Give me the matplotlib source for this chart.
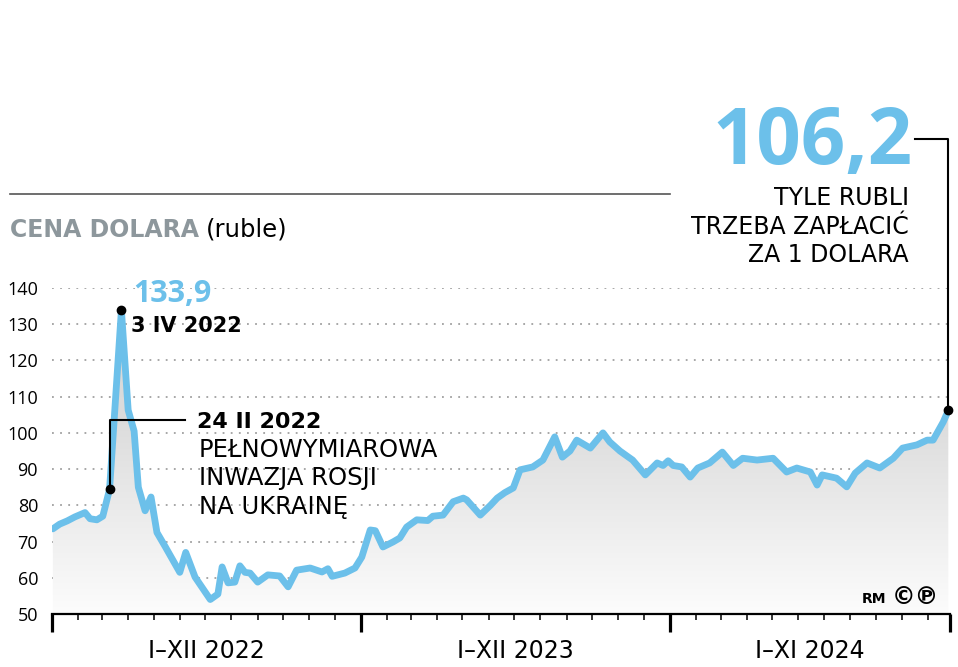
import numpy as np
import pandas as pd
import matplotlib
matplotlib.use("Agg")
import matplotlib.pyplot as plt
from matplotlib.colors import LinearSegmentedColormap
from matplotlib.lines import Line2D

# kurs dolara w rublach, dni liczone od 1 I 2022
dni = [1, 9, 18, 27, 39, 45, 53, 60, 68, 82, 90, 97, 102, 110, 117, 124, 134, 151,
       158, 169, 187, 196, 201, 208, 216, 222, 228, 234, 243, 255, 269, 279, 289,
       305, 319, 326, 331, 346, 358, 366, 376, 382, 391, 403, 411, 419, 431, 444,
       450, 462, 474, 486, 490, 506, 518, 526, 535, 545, 553, 568, 580, 594, 603,
       612, 620, 636, 651, 659, 671, 686, 701, 715, 722, 728, 734, 744, 754, 763,
       777, 792, 805, 816, 833, 852, 868, 880, 896, 904, 910, 927, 939, 949, 963,
       978, 994, 1005, 1022, 1034, 1041, 1053, 1059]
kurs = [73.5, 74.8, 75.7, 76.8, 78.0, 76.3, 76.0, 77.0, 84.4, 133.9, 106.3, 100.5,
        85.0, 78.5, 82.3, 72.5, 68.5, 61.5, 67.0, 60.2, 54.0, 55.5, 63.0, 58.6,
        58.8, 63.3, 61.5, 61.3, 58.8, 60.8, 60.5, 57.5, 62.1, 62.7, 61.6, 62.5,
        60.4, 61.3, 62.7, 65.7, 73.2, 73.0, 68.5, 69.9, 71.0, 74.0, 76.0, 75.8,
        77.0, 77.3, 81.0, 82.0, 81.5, 77.3, 80.0, 82.0, 83.5, 84.8, 89.8, 90.6,
        92.5, 98.9, 93.3, 95.0, 98.0, 95.8, 100.0, 97.5, 95.0, 92.5, 88.4, 91.7,
        91.0, 92.3, 91.0, 90.6, 87.8, 90.3, 91.7, 94.7, 91.0, 93.0, 92.5, 93.0,
        89.2, 90.3, 89.2, 85.6, 88.4, 87.5, 85.1, 88.9, 91.7, 90.3, 93.0, 95.8,
        96.7, 98.0, 98.0, 103.0, 106.2]

lata = ["I–XII 2022", "I–XII 2023", "I–XI 2024"]
y_ticks = [50, 60, 70, 80, 90, 100, 110, 120, 130, 140]

NIEBIESKI = "#6cc0ea"
SZARY = "#8d979c"
LICZBY = ["Open Sans", "DejaVu Sans"]   # cyfry
SLOWA = ["DejaVu Sans"]                 # napisy (szersze litery)

plt.rcParams["font.family"] = LICZBY

W, H = 958, 667
fig = plt.figure(figsize=(W / 100, H / 100), dpi=100)


def fx(px):
    return px / W


def fy(py):
    return 1 - py / H


ax = fig.add_axes([fx(52), fy(614), fx(950) - fx(52), fy(288) - fy(614)])

start = pd.Timestamp("2022-01-01")
koniec = dni[-1] + 2

# wypełnienie z gradientem pod linią
cmap = LinearSegmentedColormap.from_list("szary", [(0, "#fcfcfc"), (0.6, "#dcdcdc"), (1, "#d6d6d6")])
grad = np.linspace(0, 1, 256).reshape(-1, 1)
im = ax.imshow(grad, extent=[0, koniec, 50, 140], origin="lower", cmap=cmap,
               aspect="auto", zorder=1)
poly = ax.fill_between(dni, kurs, 50, color="none", lw=0)
im.set_clip_path(poly.get_paths()[0], transform=ax.transData)

ax.plot(dni, kurs, color=NIEBIESKI, lw=4.9, solid_joinstyle="round",
        solid_capstyle="round", zorder=3)

ax.set_xlim(0, koniec)
ax.set_ylim(50, 140)

# siatka
for v in y_ticks[1:]:
    ax.axhline(v, color="#a0a0a0", lw=1.3, ls=(0, (1, 3.5)), zorder=0.5)

ax.set_yticks(y_ticks)
ax.set_yticklabels([str(v) for v in y_ticks], fontsize=13)
ax.tick_params(axis="y", length=0, pad=10)

# oś x: miesiące
miesiace = pd.date_range("2022-01-01", "2024-11-01", freq="MS")
md = (miesiace - start).days
major = [d for d, m in zip(md, miesiace) if m.month == 1] + [koniec]
minor = [d for d, m in zip(md, miesiace) if m.month != 1]
ax.set_xticks(major)
ax.set_xticks(minor, minor=True)
ax.set_xticklabels([])
ax.tick_params(axis="x", which="major", length=13, width=2.3, color="black")
ax.tick_params(axis="x", which="minor", length=4.5, width=1.1, color="black")

for i, lab in enumerate(lata):
    mid = (major[i] + major[i + 1]) / 2
    ax.annotate(lab, xy=(mid, 0), xycoords=ax.get_xaxis_transform(),
                xytext=(0, -44), textcoords="offset pixels",
                ha="center", va="baseline", fontsize=17, family=SLOWA)

for s in ["top", "right", "left"]:
    ax.spines[s].set_visible(False)
ax.spines["bottom"].set_linewidth(1.6)
ax.spines["bottom"].set_zorder(4)

# maksimum 3 IV 2022
i_max = int(np.argmax(kurs))
ax.plot(dni[i_max], kurs[i_max], "o", color="black", ms=6, zorder=5, clip_on=False)
ax.annotate("133,9", xy=(dni[i_max], kurs[i_max]), xytext=(12, 8),
            textcoords="offset pixels", fontsize=22, fontweight="bold",
            color=NIEBIESKI, va="baseline")
ax.annotate("3 IV 2022", xy=(dni[i_max], kurs[i_max]), xytext=(10, -22),
            textcoords="offset pixels", fontsize=15, fontweight="bold",
            color="black", va="baseline", family=SLOWA)

# inwazja 24 II 2022
i_inw = 8
ax.plot(dni[i_inw], kurs[i_inw], "o", color="black", ms=6, zorder=5)
ax.plot([dni[i_inw], dni[i_inw], 157], [kurs[i_inw], 103.6, 103.6],
        color="black", lw=1.5, zorder=5)
fig.text(fx(197), fy(428), "24 II 2022", fontsize=16, fontweight="bold",
         va="baseline", family=SLOWA)
for j, t in enumerate(["PEŁNOWYMIAROWA", "INWAZJA ROSJI", "NA UKRAINĘ"]):
    fig.text(fx(199), fy(457 + j * 28.5), t, fontsize=17.5, va="baseline", family=SLOWA)

# ostatnia wartość
ax.plot(dni[-1], kurs[-1], "o", color="black", ms=6, zorder=5, clip_on=False)
ax.plot([1020, dni[-1], dni[-1]], [181, 181, kurs[-1]], color="black", lw=1.5,
        zorder=5, clip_on=False)
fig.text(fx(913), fy(164), "106,2", fontsize=56, fontweight="bold",
         color=NIEBIESKI, ha="right", va="baseline")
for j, t in enumerate(["TYLE RUBLI", "TRZEBA ZAPŁACIĆ", "ZA 1 DOLARA"]):
    fig.text(fx(909), fy(205 + j * 28.5), t, fontsize=17, ha="right",
             va="baseline", family=SLOWA)

# tytuł
fig.add_artist(Line2D([fx(10), fx(670)], [fy(194), fy(194)], color="#555555", lw=1.2))
fig.text(fx(10), fy(237), "CENA DOLARA", fontsize=17, fontweight="bold",
         color=SZARY, va="baseline", family=SLOWA)
fig.text(fx(206), fy(237), "(ruble)", fontsize=17.5, va="baseline", family=SLOWA)

fig.text(fx(862), fy(603), "RM", fontsize=10, fontweight="bold", va="baseline",
         family=SLOWA)
fig.text(fx(892), fy(604), "©℗", fontsize=17, fontweight="bold",
         family=SLOWA, va="baseline")

fig.savefig("out.png", dpi=100)
